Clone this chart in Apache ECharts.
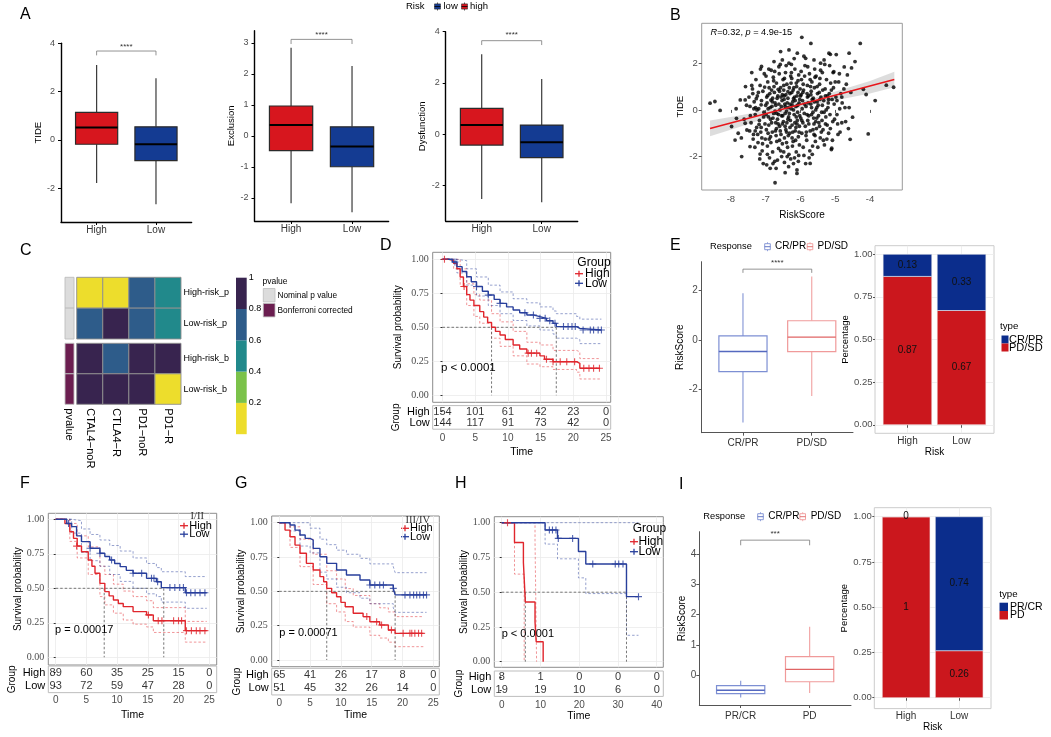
<!DOCTYPE html>
<html><head><meta charset="utf-8">
<script src="https://cdn.jsdelivr.net/npm/echarts@6/dist/echarts.min.js"></script>
<style>html,body{margin:0;padding:0;background:#fff}#c{width:1051px;height:737px}</style>
</head><body><div id="c"></div>
<script>
// ================= DATA =================
// Panel A : box stats [min, q1, median, q3, max]
const A_groups = ['High', 'Low'];
const A_tide = [[-1.78, -0.18, 0.51, 1.14, 3.1], [-2.66, -0.86, -0.18, 0.54, 2.55]];
const A_exclusion = [[-2.18, -0.48, 0.35, 0.96, 2.84], [-2.47, -1.0, -0.35, 0.29, 2.25]];
const A_dysfunction = [[-2.52, -0.42, 0.36, 1.01, 3.12], [-2.65, -0.91, -0.31, 0.36, 2.16]];
const A_tide_ticks = [-2, 0, 2, 4];
const A_excl_ticks = [-2, -1, 0, 1, 2, 3];
const A_dysf_ticks = [-2, 0, 2, 4];
const A_brackets = [[1, 2, 3.68, 3.5], [1, 2, 3.11, 2.96], [1, 2, 3.65, 3.48]];
const A_sig = '****';

// Panel B : scatter RiskScore vs TIDE
const B_points = [
[-8.6,0.29],[-8.46,0.36],[-8.31,-0.02],[-7.73,0.43],[-7.59,0.43],[-7.69,-2.0],[-7.88,-1.29],[-7.4,1.6],[-6.73,-3.12],[-5.96,3.11],
[-5.7,2.85],[-4.28,2.85],[-3.53,1.06],[-3.32,0.97],[-4.05,-1.03],[-3.85,0.4],[-4.57,-1.26],[-4.5,-0.31],[-4.11,0.66],[-4.19,0.88],
[-4.43,2.07],[-4.6,2.43],[-4.53,1.8],[-5.14,2.38],[-4.97,2.37],[-4.74,1.84],[-4.81,0.55],[-4.87,0.05],[-4.81,-0.55],[-5.1,-1.64],
[-5.72,-2.29],[-6.1,-2.57],[-6.1,-2.72],[-6.44,-2.69],[-6.34,-2.43],[-6.87,-2.5],[-7.16,-1.89],[-7.45,-1.57],[-7.12,1.86],[-6.76,2.07],
[-6.52,2.14],[-6.57,2.5],[-6.33,2.57],[-6.09,2.43],[-5.85,2.21],[-5.61,2.14],[-5.32,2.14],[-5.18,2.43],[-5.42,1.7],[-5.04,1.64],
[-7.84,-0.36],[-7.59,-0.57],[-7.54,-0.86],[-7.79,-1.0],[-7.98,-0.71],[-7.62,-0.4],[-7.55,0.2],[-7.85,0.05],[-7.58,1.0],[-7.7,-1.2],
[-7.45,0.15],[-7.42,-0.55],[-7.38,0.9],[-7.35,-1.05],[-7.33,0.35],[-7.3,-0.2],[-7.28,1.3],[-7.26,-0.75],[-7.24,0.6],[-7.22,-1.4],
[-7.2,0.05],[-7.18,-0.45],[-7.16,1.05],[-7.14,-0.95],[-7.12,0.4],[-7.1,-1.75],[-7.08,0.8],[-7.06,-0.3],[-7.04,1.55],[-7.02,-0.6],
[-7.0,0.2],[-7.48,0.55],[-7.36,-1.25],[-7.21,0.75],[-7.11,-1.2],[-7.05,-0.1],[-7.4,1.05],[-7.15,1.75],[-7.3,-0.9],[-7.25,0.0],
[-6.98,-0.85],[-6.97,0.55],[-6.95,-1.55],[-6.94,1.2],[-6.92,-0.3],[-6.9,0.95],[-6.89,-2.05],[-6.87,0.1],[-6.86,-1.15],[-6.84,1.7],
[-6.83,-0.55],[-6.81,0.35],[-6.8,-1.8],[-6.78,1.4],[-6.77,-0.15],[-6.75,0.75],[-6.74,-2.2],[-6.72,-0.9],[-6.71,0.2],[-6.69,1.15],
[-6.68,-1.35],[-6.66,-0.4],[-6.65,0.6],[-6.63,-1.65],[-6.62,1.85],[-6.6,-0.7],[-6.59,0.0],[-6.57,0.95],[-6.56,-1.05],[-6.54,-2.0],
[-6.53,0.4],[-6.51,-0.25],[-6.5,1.3],[-6.96,0.3],[-6.91,-0.65],[-6.88,0.7],[-6.85,-1.4],[-6.79,-0.35],[-6.76,1.0],[-6.73,-0.05],
[-6.7,-1.1],[-6.67,0.5],[-6.64,-0.6],[-6.61,1.55],[-6.58,-0.9],[-6.55,0.15],[-6.52,-1.45],[-6.93,-1.0],[-6.82,0.15],[-6.69,-0.8],
[-6.6,0.8],[-6.52,0.65],[-6.99,1.45],[-6.74,1.65],[-6.63,-0.2],[-6.57,-1.75],[-6.86,-0.4],[-6.8,0.5],[-6.7,-2.5],[-6.95,-1.9],
[-6.49,-0.5],[-6.48,0.85],[-6.46,-1.2],[-6.45,0.25],[-6.43,1.6],[-6.42,-0.85],[-6.4,-0.05],[-6.39,1.1],[-6.37,-1.6],[-6.36,0.5],
[-6.34,-0.3],[-6.33,2.0],[-6.31,-1.0],[-6.3,0.7],[-6.28,-2.1],[-6.27,0.05],[-6.25,1.35],[-6.24,-0.65],[-6.22,0.35],[-6.21,-1.35],
[-6.19,0.95],[-6.18,-0.2],[-6.16,1.75],[-6.15,-0.9],[-6.13,0.15],[-6.12,-1.8],[-6.1,0.6],[-6.09,-0.45],[-6.07,1.25],[-6.06,-1.15],
[-6.04,0.3],[-6.03,-0.7],[-6.01,0.9],[-6.47,0.45],[-6.44,-0.7],[-6.41,1.9],[-6.38,0.3],[-6.35,-1.1],[-6.32,0.95],[-6.29,-0.45],
[-6.26,1.6],[-6.23,-1.55],[-6.2,0.0],[-6.17,0.55],[-6.14,-1.3],[-6.11,1.0],[-6.08,-0.1],[-6.05,-1.95],[-6.02,0.45],[-6.46,1.35],
[-6.4,-1.4],[-6.35,0.1],[-6.3,-0.75],[-6.25,0.75],[-6.2,-2.3],[-6.15,0.4],[-6.1,-0.6],[-6.05,1.5],[-6.48,-1.8],[-6.42,0.65],
[-6.36,-0.4],[-6.27,1.15],[-6.22,-0.95],[-6.18,2.2],[-6.12,-0.3],[-6.07,0.75],[-6.03,-1.5],[-6.44,-0.15],[-6.33,-1.9],[-6.24,0.2],
[-5.99,-0.35],[-5.97,1.3],[-5.96,-1.0],[-5.94,0.4],[-5.92,-1.6],[-5.91,0.85],[-5.89,-0.15],[-5.87,1.9],[-5.86,-0.7],[-5.84,0.15],
[-5.82,-1.3],[-5.8,1.05],[-5.79,-0.45],[-5.77,0.6],[-5.75,-2.05],[-5.74,1.55],[-5.72,-0.9],[-5.7,0.25],[-5.68,-0.2],[-5.67,1.2],
[-5.65,-1.55],[-5.63,0.5],[-5.61,-0.6],[-5.6,0.95],[-5.58,-1.1],[-5.56,0.0],[-5.55,1.45],[-5.53,-0.35],[-5.51,0.7],[-5.98,0.65],
[-5.93,-0.55],[-5.88,1.45],[-5.83,-0.95],[-5.78,0.3],[-5.73,-1.75],[-5.69,0.8],[-5.64,-0.1],[-5.59,1.75],[-5.54,-0.8],[-5.95,0.05],
[-5.85,-2.3],[-5.76,-0.25],[-5.66,0.45],[-5.57,-1.35],[-5.52,0.35],[-5.9,2.3],[-5.81,0.7],[-5.71,1.0],[-5.62,-0.35],
[-5.49,0.2],[-5.47,-0.55],[-5.45,1.1],[-5.43,-1.2],[-5.41,0.55],[-5.39,-0.1],[-5.37,1.6],[-5.35,-0.85],[-5.33,0.4],[-5.31,-1.5],
[-5.29,0.9],[-5.27,-0.3],[-5.25,1.3],[-5.23,-0.65],[-5.21,0.1],[-5.19,-1.0],[-5.17,0.7],[-5.15,-0.2],[-5.13,1.15],[-5.11,-1.7],
[-5.09,0.45],[-5.07,-0.5],[-5.05,0.95],[-5.03,0.25],[-5.46,0.75],[-5.38,-0.45],[-5.3,1.95],[-5.22,0.6],[-5.14,-0.8],[-5.06,1.6],
[-5.42,2.0],[-5.26,0.0],[-4.98,0.55],[-4.95,-0.2],[-4.9,1.2],[-4.86,-0.95],[-4.8,0.3],[-4.75,0.9],[-4.7,-0.5],[-4.65,1.5],
[-4.6,0.1],[-4.55,0.75],[-4.93,-0.6],[-4.84,0.7],
[-7.27,0.48],[-7.19,-0.62],[-7.13,0.22],[-7.09,-1.45],[-7.03,0.98],[-6.99,-0.2],[-6.94,0.62],[-6.9,-1.25],[-6.85,0.42],[-6.81,-0.95],
[-6.77,1.25],[-6.73,0.3],[-6.68,-0.15],[-6.64,0.88],[-6.6,-1.3],[-6.56,0.55],[-6.52,-0.6],[-6.48,1.05],[-6.44,0.15],[-6.4,-0.95],
[-6.36,0.78],[-6.32,-0.15],[-6.28,1.45],[-6.24,-1.2],[-6.2,0.48],[-6.16,-0.55],[-6.12,1.15],[-6.08,0.2],[-6.04,-0.95],[-6.0,0.6],
[-5.96,-0.45],[-5.92,1.1],[-5.88,0.25],[-5.84,-1.1],[-5.8,0.55],[-5.76,-0.6],[-5.72,1.3],[-5.68,0.1],[-5.64,-0.85],[-5.6,0.35],
[-5.56,-0.5],[-5.52,1.0],[-5.48,-0.25],[-5.44,0.45],[-5.4,-0.95],[-5.36,0.85],[-5.32,-0.1],[-5.28,0.6],[-5.24,-1.25],[-5.2,0.3],
[-7.31,-1.6],[-7.17,-2.1],[-7.07,-2.3],[-6.97,-2.35],[-6.91,1.75],[-6.79,-2.3],[-6.66,-2.15],[-6.58,1.95],[-6.46,-2.25],[-6.38,-2.0],
[-6.26,1.95],[-6.17,-2.05],[-6.06,-2.2],[-5.98,1.65],[-5.9,-1.95],[-5.79,1.85],[-5.66,-1.9],[-5.58,1.4],[-5.5,-1.6],[-5.44,1.35],
[-5.34,-1.3],[-5.16,1.9],[-5.08,-1.3],[-5.0,1.2],[-4.92,-1.05],[-4.88,1.55],[-4.72,0.1],[-4.68,1.1],[-4.62,-0.8],[-4.95,0.4],
[-7.37,0.7],[-7.23,-1.05],[-7.29,0.1],[-7.13,-0.75],[-7.01,-1.25],[-6.93,0.05],[-6.83,0.85],[-6.71,-0.55],[-6.62,0.25],[-6.54,-0.25],
[-6.47,0.6],[-6.39,-0.55],[-6.3,0.25],[-6.21,0.85],[-6.13,-0.75],[-6.02,-0.25],[-5.93,0.75],[-5.81,-0.2],[-5.7,0.65],[-5.61,-1.05],
[-5.53,0.1],[-5.45,-0.7],[-5.37,0.2],[-5.28,-0.6],[-5.19,0.45],[-5.11,0.85],[-5.02,-0.4],[-7.44,-0.25],[-7.34,0.05],[-7.46,-0.9]
];
const B_fit = [[-8.6, -0.8], [-3.3, 1.3]];
const B_band = [[-8.6,-1.13,-0.45],[-7.8,-0.75,-0.25],[-7.0,-0.36,-0.02],[-6.3,-0.02,0.22],[-5.6,0.24,0.52],[-4.8,0.47,0.87],[-4.0,0.7,1.24],[-3.3,0.97,1.63]];
const B_xticks = [-8, -7, -6, -5, -4];
const B_yticks = [-2, 0, 2];

// Panel C : heatmap
const C_cols = ['CTAL4\u2212noR', 'CTLA4\u2212R', 'PD1\u2212noR', 'PD1\u2212R'];
const C_rows_p = ['High-risk_p', 'Low-risk_p'];
const C_rows_b = ['High-risk_b', 'Low-risk_b'];
const C_vals_p = [[0.1, 0.1, 0.7, 0.5], [0.7, 0.9, 0.7, 0.5]];
const C_vals_b = [[0.95, 0.7, 0.95, 0.95], [0.95, 0.95, 0.95, 0.1]];
const C_breaks = [0, 0.2, 0.4, 0.6, 0.8, 1];
const C_annot = ['Nominal p value', 'Bonferroni corrected'];

// Panel D : KM all
const KM_yticks = [0, 0.25, 0.5, 0.75, 1];
const D_times = [0, 5, 10, 15, 20, 25];
const D_nHigh = [154, 101, 61, 42, 23, 0];
const D_nLow = [144, 117, 91, 73, 42, 0];
const D_high = [[0,1],[1.0,0.99],[1.7,0.97],[2.2,0.93],[2.7,0.87],[3.2,0.8],[3.7,0.74],[4.2,0.7],[4.8,0.66],[5.7,0.615],[6.3,0.575],[6.9,0.535],[7.5,0.5],[8.1,0.47],[8.8,0.443],[9.6,0.41],[10.8,0.37],[11.8,0.34],[12.9,0.31],[14.9,0.29],[15.6,0.265],[16.9,0.247],[20.5,0.235],[21.0,0.199],[24.1,0.199]];
const D_low = [[0,1],[1.5,0.98],[2.2,0.946],[3.0,0.91],[3.7,0.872],[4.4,0.835],[5.2,0.8],[6.1,0.765],[7.0,0.737],[7.9,0.705],[8.8,0.676],[9.8,0.65],[10.8,0.627],[11.8,0.607],[12.9,0.59],[14.0,0.578],[14.9,0.566],[15.9,0.548],[16.9,0.529],[17.4,0.505],[20.5,0.492],[21.0,0.48],[24.3,0.48]];
const D_high_up = [[0,1],[1.7,1.0],[2.7,0.93],[3.7,0.82],[4.8,0.74],[5.7,0.7],[7.5,0.6],[8.8,0.54],[10.8,0.47],[12.9,0.39],[14.9,0.37],[16.9,0.33],[20.5,0.32],[21,0.27],[24.1,0.27]];
const D_high_lo = [[0,1],[1.7,0.93],[2.7,0.8],[3.7,0.66],[4.8,0.58],[5.7,0.53],[7.5,0.42],[8.8,0.36],[10.8,0.29],[12.9,0.23],[14.9,0.21],[16.9,0.19],[20.5,0.17],[21,0.12],[24.1,0.12]];
const D_low_up = [[0,1],[2.2,0.99],[3.7,0.93],[5.2,0.87],[7.0,0.81],[8.8,0.76],[10.8,0.71],[12.9,0.68],[14.9,0.65],[16.9,0.62],[17.4,0.6],[20.5,0.58],[21,0.56],[24.3,0.56]];
const D_low_lo = [[0,1],[2.2,0.9],[3.7,0.81],[5.2,0.73],[7.0,0.66],[8.8,0.6],[10.8,0.55],[12.9,0.51],[14.9,0.48],[16.9,0.45],[17.4,0.42],[20.5,0.41],[21,0.38],[24.3,0.38]];
const D_cens_high = [[0.3,1],[3.3,0.8],[13.1,0.31],[13.6,0.31],[14.4,0.31],[15.9,0.265],[16.9,0.247],[18,0.247],[19,0.247],[20.2,0.247],[21.6,0.199],[22.4,0.199],[23.1,0.199],[24.0,0.199]];
const D_cens_low = [[1.9,0.98],[5.2,0.8],[7.0,0.737],[8.8,0.676],[12.6,0.607],[13.9,0.59],[14.9,0.566],[15.7,0.566],[16.4,0.548],[17.2,0.529],[18.5,0.505],[19.2,0.505],[19.8,0.505],[20.3,0.505],[21.5,0.48],[22.6,0.48],[23.1,0.48],[23.8,0.48],[24.3,0.48]];
const D_medians = [7.5, 17.4];

// Panel E
const E_groups = ['CR/PR', 'PD/SD'];
const E_box = [[-3.33, -1.28, -0.47, 0.16, 1.88], [-2.26, -0.47, 0.11, 0.77, 2.55]];
const E_box_ticks = [-2, 0, 2];
const E_bracket = [1, 2, 2.85, 2.7];
const E_sig = '****';
const E_risk = ['High', 'Low'];
const E_types = ['CR/PR', 'PD/SD'];
const E_pct_crpr = [0.13, 0.33];
const E_pct_pdsd = [0.87, 0.67];

// Panel F
const F_times = [0, 5, 10, 15, 20, 25];
const F_nHigh = [89, 60, 35, 25, 15, 0];
const F_nLow = [93, 72, 59, 47, 28, 0];
const F_high = [[0,1],[1.5,0.97],[2.3,0.91],[2.9,0.862],[3.5,0.806],[4.2,0.765],[5.3,0.705],[5.9,0.66],[6.4,0.609],[7.2,0.536],[8.0,0.476],[8.7,0.445],[9.4,0.415],[10.2,0.39],[11.0,0.367],[12.6,0.331],[14.8,0.307],[15.9,0.265],[21.1,0.193],[24.6,0.193]];
const F_low = [[0,1],[1.8,0.97],[2.6,0.947],[3.4,0.88],[4.2,0.838],[5.6,0.79],[7.2,0.754],[8.0,0.73],[8.8,0.705],[9.6,0.68],[10.5,0.657],[11.5,0.63],[12.6,0.609],[14.8,0.572],[16.4,0.548],[17.2,0.505],[21.1,0.468],[24.6,0.468]];
const F_high_up = [[0,1],[2.3,0.97],[3.5,0.88],[5.3,0.8],[7.2,0.66],[8.0,0.6],[9.4,0.53],[11,0.48],[12.6,0.44],[14.8,0.41],[15.9,0.36],[21.1,0.26],[24.6,0.26]];
const F_high_lo = [[0,1],[2.3,0.84],[3.5,0.72],[5.3,0.6],[7.2,0.44],[8.0,0.38],[9.4,0.32],[11,0.27],[12.6,0.24],[14.8,0.22],[15.9,0.18],[21.1,0.11],[24.6,0.11]];
const F_low_up = [[0,1],[2.6,0.99],[4.2,0.93],[5.6,0.89],[7.2,0.85],[8.8,0.81],[10.5,0.77],[12.6,0.72],[14.8,0.68],[16.4,0.65],[17.2,0.62],[21.1,0.585],[24.6,0.585]];
const F_low_lo = [[0,1],[2.6,0.9],[4.2,0.76],[5.6,0.7],[7.2,0.66],[8.8,0.6],[10.5,0.55],[12.6,0.5],[14.8,0.46],[16.4,0.44],[17.2,0.4],[21.1,0.355],[24.6,0.355]];
const F_cens_high = [[3.4,0.806],[15.1,0.307],[16.7,0.265],[17.3,0.265],[19.2,0.265],[20.0,0.265],[20.5,0.265],[21.3,0.193],[22.1,0.193],[22.9,0.193],[23.5,0.193],[24.3,0.193]];
const F_cens_low = [[2.1,0.97],[5.6,0.79],[7.2,0.754],[9.1,0.705],[12.6,0.609],[14.0,0.609],[15.6,0.572],[16.0,0.572],[16.6,0.548],[18.6,0.505],[19.4,0.505],[20.2,0.505],[20.8,0.505],[21.3,0.468],[22.0,0.468],[22.7,0.468],[23.5,0.468],[24.3,0.468]];
const F_medians = [7.9, 17.6];

// Panel G
const G_times = [0, 5, 10, 15, 20, 25];
const G_nHigh = [65, 41, 26, 17, 8, 0];
const G_nLow = [51, 45, 32, 26, 14, 0];
const G_high = [[0,1],[0.93,0.946],[1.74,0.898],[2.55,0.837],[3.36,0.777],[4.4,0.704],[5.5,0.655],[6.6,0.607],[7.2,0.57],[7.7,0.522],[8.5,0.49],[9.3,0.461],[10.0,0.42],[10.7,0.388],[12.0,0.34],[13.6,0.316],[14.7,0.279],[16.3,0.255],[17.7,0.218],[18.8,0.194],[23.4,0.194]];
const G_low = [[0,1],[1.74,0.983],[2.55,0.946],[3.36,0.91],[4.2,0.886],[5.0,0.874],[5.5,0.813],[6.6,0.752],[7.7,0.704],[9.3,0.655],[10.9,0.619],[13.1,0.583],[14.7,0.546],[18.5,0.522],[18.8,0.474],[23.9,0.474]];
const G_high_up = [[0,1],[1.74,0.97],[3.36,0.88],[5.5,0.77],[7.7,0.65],[9.3,0.59],[10.7,0.52],[12,0.47],[14.7,0.41],[16.3,0.38],[17.7,0.35],[18.8,0.316],[23.4,0.316]];
const G_high_lo = [[0,1],[1.74,0.82],[3.36,0.68],[5.5,0.55],[7.7,0.41],[9.3,0.35],[10.7,0.28],[12,0.24],[14.7,0.18],[16.3,0.16],[17.7,0.13],[18.8,0.097],[23.4,0.097]];
const G_low_up = [[0,1],[5.0,0.96],[6.6,0.88],[7.7,0.84],[9.3,0.8],[10.9,0.77],[13.1,0.74],[14.7,0.7],[18.5,0.68],[18.8,0.636],[23.9,0.636]];
const G_low_lo = [[0,1],[1.74,0.94],[3.36,0.83],[5.0,0.78],[6.6,0.64],[7.7,0.59],[9.3,0.53],[10.9,0.49],[13.1,0.45],[14.7,0.41],[18.5,0.38],[18.8,0.347],[23.9,0.347]];
const G_cens_high = [[14.2,0.316],[15.8,0.279],[16.6,0.255],[18.2,0.218],[20.1,0.194],[21.2,0.194],[21.5,0.194],[22.0,0.194],[22.6,0.194],[23.1,0.194]];
const G_cens_low = [[14.7,0.546],[15.5,0.546],[16.3,0.546],[16.9,0.546],[18.5,0.522],[20.4,0.474],[21.2,0.474],[21.8,0.474],[22.3,0.474],[22.8,0.474],[23.4,0.474],[23.9,0.474]];
const G_medians = [7.7, 18.8];

// Panel H
const H_times = [0, 10, 20, 30, 40];
const H_nHigh = [8, 1, 0, 0, 0];
const H_nLow = [19, 19, 10, 6, 0];
const H_high = [[0,1],[3.3,0.857],[5.6,0.714],[6.1,0.429],[8.6,0.286],[8.9,0.143],[10.7,0]];
const H_low = [[0,1],[11.2,0.947],[14.4,0.887],[19.8,0.793],[21.7,0.703],[32.2,0.468],[35.3,0.468]];
const H_high_up = [[0,1],[8.6,0.87],[9.0,0]];
const H_high_lo = [[0,1],[3.3,0.63],[5.8,0]];
const H_low_up = [[0,1],[35.3,1]];
const H_low_lo = [[0,1],[11.2,0.846],[14.4,0.74],[19.8,0.603],[21.7,0.49],[32.2,0.19],[35.3,0.19]];
const H_cens_high = [[1.5,1]];
const H_cens_low = [[12.3,0.947],[13.1,0.947],[14.0,0.947],[14.6,0.887],[18.3,0.887],[23.5,0.703],[29.3,0.703],[30.2,0.703],[31.3,0.703],[35.3,0.468]];
const H_medians = [6.1, 32.2];

// Panel I
const I_groups = ['PR/CR', 'PD'];
const I_box = [[-0.74, -0.61, -0.5, -0.35, -0.19], [-0.59, -0.22, 0.19, 0.61, 1.6]];
const I_box_ticks = [0, 1, 2, 3, 4];
const I_bracket = [1, 2, 4.47, 4.3];
const I_sig = '***';
const I_risk = ['High', 'Low'];
const I_types = ['PR/CR', 'PD'];
const I_pct_prcr = [0, 0.74];
const I_pct_pd = [1, 0.26];

// ================= BUILD =================
const SANS = '"Liberation Sans", Arial, Helvetica, sans-serif';
const SERIF = '"Liberation Serif", "Times New Roman", serif';
const GT = '#4D4D4D';
const RED_KM = '#E0262D', BLUE_KM = '#283F9C';

const grids = [], xAxes = [], yAxes = [], series = [], graphic = [];
function addGrid(rect, xa, ya, extra) {
  const gi = grids.length;
  grids.push(Object.assign({left: rect[0], top: rect[1], width: rect[2], height: rect[3], containLabel: false, outerBoundsMode: 'none', show: false}, extra || {}));
  xAxes.push(Object.assign({gridIndex: gi}, xa));
  yAxes.push(Object.assign({gridIndex: gi}, ya));
  return gi;
}
function font(size, fam, style) { return (style ? style + ' ' : '') + size + 'px ' + (fam || SANS); }
function txt(x, y, text, size, opt) {
  opt = opt || {};
  const st = {text: text, font: font(size, opt.family, opt.fstyle), fill: opt.color || '#000',
    align: opt.align || 'left', verticalAlign: opt.va || 'middle', textAlign: opt.align || 'left', textVerticalAlign: opt.va || 'middle'};
  if (opt.rich) st.rich = opt.rich;
  return {type: 'text', x: x, y: y, rotation: opt.rotation || 0, silent: true, z: 100, style: st};
}

// ---- box helpers
function boxSeries(gi, rows, st) {
  return {type: 'custom', xAxisIndex: gi, yAxisIndex: gi, silent: true, z: 5,
    data: rows.map((r, i) => [i + 1].concat(r)), encode: {x: 0, y: [1, 2, 3, 4, 5]},
    renderItem: function (params, api) {
      const i = params.dataIndex, x = api.value(0);
      const w = api.size([st.width, 0])[0];
      const c = v => api.coord([x, v]);
      const lo = c(api.value(1)), q1 = c(api.value(2)), md = c(api.value(3)), q3 = c(api.value(4)), hi = c(api.value(5));
      const wc = st.whisker[i];
      return {type: 'group', children: [
        {type: 'line', shape: {x1: lo[0], y1: lo[1], x2: q1[0], y2: q1[1]}, style: {stroke: wc, lineWidth: st.lw}},
        {type: 'line', shape: {x1: q3[0], y1: q3[1], x2: hi[0], y2: hi[1]}, style: {stroke: wc, lineWidth: st.lw}},
        {type: 'rect', shape: {x: q3[0] - w / 2, y: q3[1], width: w, height: q1[1] - q3[1]}, style: {fill: st.fill[i], stroke: st.stroke[i], lineWidth: st.lw}},
        {type: 'line', shape: {x1: md[0] - w / 2, y1: md[1], x2: md[0] + w / 2, y2: md[1]}, style: {stroke: st.median[i], lineWidth: st.mlw}}
      ]};
    }};
}
function bracketSeries(gi, br, label, off) {
  return {type: 'custom', xAxisIndex: gi, yAxisIndex: gi, silent: true, z: 6, data: [br], encode: {x: [0, 1], y: [2, 3]},
    renderItem: function (params, api) {
      const a = api.coord([api.value(0), api.value(3)]), b = api.coord([api.value(0), api.value(2)]);
      const c = api.coord([api.value(1), api.value(2)]), d = api.coord([api.value(1), api.value(3)]);
      return {type: 'group', children: [
        {type: 'polyline', shape: {points: [a, b, c, d]}, style: {stroke: '#777', lineWidth: 0.8, fill: null}},
        {type: 'text', x: (b[0] + c[0]) / 2, y: b[1] - off, style: {text: label, font: font(8), fill: '#333', align: 'center', verticalAlign: 'middle', textAlign: 'center', textVerticalAlign: 'middle'}}
      ]};
    }};
}
function boxPanel(rect, yr, yticks, cats, rows, st) {
  const gi = addGrid(rect,
    {type: 'value', min: 0.4, max: 2.6,
      axisLine: {show: true, onZero: false, lineStyle: {color: st.axisColor, width: st.axisWidth}},
      axisTick: {show: true, length: 3, customValues: [1, 2], lineStyle: {color: st.axisColor}},
      axisLabel: {customValues: [1, 2], formatter: v => cats[Math.round(v) - 1], fontSize: st.xFont, color: '#333', margin: st.xMargin, fontFamily: SANS},
      splitLine: {show: false}},
    {type: 'value', min: yr[0], max: yr[1],
      axisLine: {show: true, onZero: false, lineStyle: {color: st.axisColor, width: st.axisWidth}},
      axisTick: {show: true, length: 3, customValues: yticks, lineStyle: {color: st.axisColor}},
      axisLabel: {customValues: yticks, fontSize: st.yFont, color: GT, margin: st.yMargin, fontFamily: SANS},
      splitLine: {show: false},
      name: st.yName, nameLocation: 'middle', nameGap: st.yNameGap, nameTextStyle: {fontSize: st.yNameFont, color: '#000', fontFamily: SANS}});
  series.push(boxSeries(gi, rows, st));
  return gi;
}

// ---- Panel A
const A_style = {width: 0.71, fill: ['#D7161E', '#143B92'], stroke: ['#2b2b2b', '#2b2b2b'], whisker: ['#3a3a3a', '#3a3a3a'], median: ['#000', '#000'],
  lw: 1.2, mlw: 2, axisColor: '#000', axisWidth: 1.4, xFont: 10, yFont: 9, xMargin: 3, yMargin: 6, yNameFont: 9.5};
const gA1 = boxPanel([61, 43.3, 130.6, 178.7], [-3.4, 4.0], A_tide_ticks, A_groups, A_tide, Object.assign({}, A_style, {yName: 'TIDE', yNameGap: 16}));
const gA2 = boxPanel([254.5, 30.7, 134.1, 190.3], [-2.75, 3.39], A_excl_ticks, A_groups, A_exclusion, Object.assign({}, A_style, {yName: 'Exclusion', yNameGap: 16}));
const gA3 = boxPanel([445.7, 31.7, 132, 189.3], [-3.38, 4.0], A_dysf_ticks, A_groups, A_dysfunction, Object.assign({}, A_style, {yName: 'Dysfunction', yNameGap: 14}));
series.push(bracketSeries(gA1, A_brackets[0], A_sig, 4));
series.push(bracketSeries(gA2, A_brackets[1], A_sig, 5));
series.push(bracketSeries(gA3, A_brackets[2], A_sig, 6));

// ---- Panel B
const gB = addGrid([701.7, 23.3, 200.6, 166.7],
  {type: 'value', min: -8.84, max: -3.07, axisLine: {show: false}, axisTick: {show: true, length: 3, customValues: B_xticks, lineStyle: {color: '#555'}},
    axisLabel: {customValues: B_xticks, fontSize: 9.5, color: GT, margin: 4}, splitLine: {show: false},
    name: 'RiskScore', nameLocation: 'middle', nameGap: 20, nameTextStyle: {fontSize: 10, color: '#000'}},
  {type: 'value', min: -3.43, max: 3.71, axisLine: {show: false}, axisTick: {show: true, length: 3, customValues: B_yticks, lineStyle: {color: '#555'}},
    axisLabel: {customValues: B_yticks, fontSize: 9.5, color: GT, margin: 4}, splitLine: {show: false},
    name: 'TIDE', nameLocation: 'middle', nameGap: 15, nameTextStyle: {fontSize: 9.5, color: '#000'}},
  {show: true, borderColor: '#9a9a9a', borderWidth: 1, backgroundColor: '#fff'});
series.push({type: 'custom', xAxisIndex: gB, yAxisIndex: gB, silent: true, z: 3, data: B_band, encode: {x: 0, y: [1, 2]},
  renderItem: function (params, api) {
    if (params.dataIndex !== 0) return null;
    const up = B_band.map(p => api.coord([p[0], p[2]]));
    const lo = B_band.map(p => api.coord([p[0], p[1]])).reverse();
    return {type: 'polygon', shape: {points: up.concat(lo)}, style: {fill: 'rgba(180,180,180,0.45)', stroke: null}};
  }});
series.push({type: 'scatter', xAxisIndex: gB, yAxisIndex: gB, data: B_points, symbolSize: 3.8, itemStyle: {color: '#000'}, silent: true, z: 4});
series.push({type: 'line', xAxisIndex: gB, yAxisIndex: gB, data: B_fit, symbol: 'none', lineStyle: {color: '#E8161B', width: 1.6}, silent: true, z: 5});

// ---- Panel C
function cColor(v) { const cols = ['#EDDD2C', '#7BC24A', '#21898B', '#2E5C8A', '#38244F']; for (let i = 0; i < 5; i++) if (v <= C_breaks[i + 1]) return cols[i]; return cols[4]; }
const C_annot_colors = ['#DCDCDC', '#6B1E50'];
function cellSeries(gi, cells, colorFn, stroke) {
  return {type: 'custom', xAxisIndex: gi, yAxisIndex: gi, silent: true, data: cells, encode: {x: 0, y: 1},
    renderItem: function (params, api) {
      const c = api.coord([api.value(0), api.value(1)]), s = api.size([1, 1]);
      return {type: 'rect', shape: {x: c[0] - s[0] / 2, y: c[1] - s[1] / 2, width: s[0], height: s[1]}, style: {fill: colorFn(api.value(2)), stroke: stroke, lineWidth: 0.9}};
    }};
}
function heatGrid(rect, cols, rows, showRows, showCols, colFont) {
  return addGrid(rect,
    {type: 'category', data: cols, axisLine: {show: false}, axisTick: {show: false},
      axisLabel: {show: showCols, rotate: -90, fontSize: colFont, color: '#000', margin: 4, interval: 0}},
    {type: 'category', data: rows, inverse: true, position: 'right', axisLine: {show: false}, axisTick: {show: false},
      axisLabel: {show: showRows, fontSize: 9, color: '#000', margin: 2.5, interval: 0}});
}
const gCt = heatGrid([76.7, 277.3, 104.3, 61.7], C_cols, C_rows_p, true, false, 11);
const gCb = heatGrid([76.7, 343.3, 104.3, 61], C_cols, C_rows_b, true, true, 11);
const gCat = heatGrid([65, 277.3, 9, 61.7], ['pvalue'], C_rows_p, false, false, 11);
const gCab = heatGrid([65, 343.3, 9, 61], ['pvalue'], C_rows_b, false, true, 11);
series.push(cellSeries(gCt, C_vals_p.flatMap((row, r) => row.map((v, c) => [c, r, v])), cColor, '#8f8f8f'));
series.push(cellSeries(gCb, C_vals_b.flatMap((row, r) => row.map((v, c) => [c, r, v])), cColor, '#8f8f8f'));
series.push(cellSeries(gCat, [[0, 0, 0], [0, 1, 0]], v => C_annot_colors[v], '#bdbdbd'));
series.push(cellSeries(gCab, [[0, 0, 1], [0, 1, 1]], v => C_annot_colors[v], '#bdbdbd'));
const gCbar = addGrid([236, 277.7, 10.7, 156.5],
  {type: 'value', min: 0, max: 1, show: false},
  {type: 'value', min: 0, max: 1, interval: 0.2, position: 'right', axisLine: {show: false}, axisTick: {show: false},
    axisLabel: {formatter: v => (v === 0 ? '' : String(+v.toFixed(1))), fontSize: 9, color: '#000', margin: 2}, splitLine: {show: false}});
series.push({type: 'custom', xAxisIndex: gCbar, yAxisIndex: gCbar, silent: true,
  data: C_breaks.slice(0, 5).map((b, i) => [b, C_breaks[i + 1], (b + C_breaks[i + 1]) / 2]), encode: {y: [0, 1]},
  renderItem: function (params, api) {
    const p1 = api.coord([0, api.value(1)]), p2 = api.coord([1, api.value(0)]);
    return {type: 'rect', shape: {x: p1[0], y: p1[1], width: p2[0] - p1[0], height: p2[1] - p1[1]}, style: {fill: cColor(api.value(2)), stroke: null}};
  }});

// ---- KM panels
const PLUS = 'path://M0,4.2H10V5.8H0ZM4.2,0H5.8V10H4.2Z';
function kmPanel(k) {
  const gp = addGrid(k.plot,
    {type: 'value', min: k.xr[0], max: k.xr[1], axisLine: {show: false}, axisTick: {show: false, customValues: k.times}, axisLabel: {show: false, customValues: k.times},
      splitLine: {show: true, lineStyle: {color: '#EBEBEB', width: 0.8}}},
    {type: 'value', min: k.yr[0], max: k.yr[1], axisLine: {show: false}, axisTick: {show: true, length: 2, customValues: KM_yticks, lineStyle: {color: '#333'}},
      axisLabel: {customValues: KM_yticks, formatter: v => v.toFixed(2), fontFamily: SERIF, fontSize: 10, color: GT, margin: 4},
      splitLine: {show: true, lineStyle: {color: '#EBEBEB', width: 0.8}},
      name: 'Survival probability', nameLocation: 'middle', nameGap: k.yNameGap, nameTextStyle: {fontSize: 10, color: '#000', fontFamily: SANS}},
    {show: true, borderColor: '#8C8C8C', borderWidth: 1, backgroundColor: '#fff'});
  const line = (data, color, opt) => Object.assign({type: 'line', xAxisIndex: gp, yAxisIndex: gp, data: data, step: 'end', symbol: 'none', silent: true,
    lineStyle: {color: color, width: 1.4}}, opt || {});
  const dashCI = (data, color) => line(data, color, {z: 3, lineStyle: {color: color, width: 0.9, type: [2.5, 2], opacity: 0.55}});
  series.push(dashCI(k.hiUp, RED_KM), dashCI(k.hiLo, RED_KM), dashCI(k.loUp, BLUE_KM), dashCI(k.loLo, BLUE_KM));
  const medDash = {color: '#555', width: 0.8, type: [2.5, 2]};
  const mh = Math.max(k.medians[0], k.medians[1]);
  series.push({type: 'line', xAxisIndex: gp, yAxisIndex: gp, data: [[0, 0.5], [mh, 0.5]], symbol: 'none', silent: true, z: 3, lineStyle: medDash});
  k.medians.forEach(m => series.push({type: 'line', xAxisIndex: gp, yAxisIndex: gp, data: [[m, 0.5], [m, 0]], symbol: 'none', silent: true, z: 3, lineStyle: medDash}));
  series.push(line(k.high, RED_KM, {z: 5}), line(k.low, BLUE_KM, {z: 5}));
  const cens = (data, color) => ({type: 'scatter', xAxisIndex: gp, yAxisIndex: gp, data: data, symbol: PLUS, symbolSize: 7, itemStyle: {color: color}, silent: true, z: 6});
  series.push(cens(k.censHigh, RED_KM), cens(k.censLow, BLUE_KM));

  const gt = addGrid(k.table,
    {type: 'value', min: k.xr[0], max: k.xr[1], axisLine: {show: false}, axisTick: {show: false, customValues: k.times},
      axisLabel: {customValues: k.times, fontSize: 10, color: GT, margin: k.tickMargin}, splitLine: {show: false},
      name: 'Time', nameLocation: 'middle', nameGap: k.timeGap, nameTextStyle: {fontSize: 10.5, color: '#000'}},
    {type: 'category', data: ['Low', 'High'], axisLine: {show: false}, axisTick: {show: true, length: 2, alignWithLabel: true, interval: 0, lineStyle: {color: '#333'}},
      axisLabel: {fontSize: 11, color: '#000', margin: 3, interval: 0},
      name: 'Group', nameLocation: 'middle', nameGap: k.groupGap, nameTextStyle: {fontSize: 10, color: '#000'}},
    {show: true, borderColor: '#BDBDBD', borderWidth: 1});
  const td = [];
  k.times.forEach((t, i) => { td.push([t, 'High', k.nHigh[i]]); td.push([t, 'Low', k.nLow[i]]); });
  series.push({type: 'scatter', xAxisIndex: gt, yAxisIndex: gt, data: td, symbolSize: 1, itemStyle: {color: 'rgba(0,0,0,0)'}, silent: true,
    label: {show: true, position: 'inside', formatter: p => String(p.value[2]), fontSize: 11, color: '#000', fontFamily: SANS}});
}
kmPanel({plot: [432.7, 252.3, 178, 150], table: [432.7, 405.6, 178, 23.6], xr: [-1.5, 25.72], yr: [-0.0515, 1.0515], times: D_times,
  high: D_high, low: D_low, hiUp: D_high_up, hiLo: D_high_lo, loUp: D_low_up, loLo: D_low_lo, censHigh: D_cens_high, censLow: D_cens_low,
  medians: D_medians, nHigh: D_nHigh, nLow: D_nLow, yNameGap: 29, groupGap: 31, timeGap: 17, tickMargin: 4});
kmPanel({plot: [48.3, 513.3, 168.4, 151.7], table: [48.3, 666.05, 168.4, 26.6], xr: [-1.205, 26.22], yr: [-0.0558, 1.0435], times: F_times,
  high: F_high, low: F_low, hiUp: F_high_up, hiLo: F_high_lo, loUp: F_low_up, loLo: F_low_lo, censHigh: F_cens_high, censLow: F_cens_low,
  medians: F_medians, nHigh: F_nHigh, nLow: F_nLow, yNameGap: 23, groupGap: 31, timeGap: 17, tickMargin: 2.5});
kmPanel({plot: [271.7, 516, 167.6, 150.7], table: [271.7, 668.35, 167.6, 26.6], xr: [-1.234, 25.97], yr: [-0.0488, 1.0488], times: G_times,
  high: G_high, low: G_low, hiUp: G_high_up, hiLo: G_high_lo, loUp: G_low_up, loLo: G_low_lo, censHigh: G_cens_high, censLow: G_cens_low,
  medians: G_medians, nHigh: G_nHigh, nLow: G_nLow, yNameGap: 23, groupGap: 28, timeGap: 14.5, tickMargin: 3.3});
kmPanel({plot: [494.3, 516.7, 169, 150.6], table: [494.3, 671, 169, 25.4], xr: [-1.91, 41.7], yr: [-0.0403, 1.043], times: H_times,
  high: H_high, low: H_low, hiUp: H_high_up, hiLo: H_high_lo, loUp: H_low_up, loLo: H_low_lo, censHigh: H_cens_high, censLow: H_cens_low,
  medians: H_medians, nHigh: H_nHigh, nLow: H_nLow, yNameGap: 24, groupGap: 30, timeGap: 13, tickMargin: 3.6});

// ---- Panel E and I: box + stacked bar
const EI_box_style = {width: 0.7, fill: ['#fff', '#fff'], stroke: ['#7D8FD3', '#F09A9A'], whisker: ['#8C9CD8', '#F2A8A8'], median: ['#5569BF', '#E06464'],
  lw: 1.2, mlw: 1.4, axisColor: '#555', axisWidth: 1, xFont: 10, yFont: 10, yNameFont: 10, yName: 'RiskScore'};
const gEb = boxPanel([701.7, 261.7, 151.3, 171], [-3.74, 3.15], E_box_ticks, E_groups, E_box, Object.assign({}, EI_box_style, {xMargin: 5.5, yMargin: 4, yNameGap: 11}));
series.push(bracketSeries(gEb, E_bracket, E_sig, 6));
const gIb = boxPanel([699.3, 531.7, 151.7, 173.3], [-0.99, 4.75], I_box_ticks, I_groups, I_box, Object.assign({}, EI_box_style, {xMargin: 6, yMargin: 3, yNameGap: 9}));
series.push(bracketSeries(gIb, I_bracket, I_sig, 6));

const BAR_COLORS = ['#CB171D', '#0B2D8C'];
function stackBarPanel(rect, yr, cats, bottomVals, topVals, gap) {
  const yt = [0, 0.25, 0.5, 0.75, 1];
  const gi = addGrid(rect,
    {type: 'value', min: 0.4, max: 2.6, axisLine: {show: false}, axisTick: {show: true, length: 3, customValues: [1, 2], lineStyle: {color: '#555'}},
      axisLabel: {customValues: [1, 2], formatter: v => cats[Math.round(v) - 1], fontSize: 10, color: '#333', margin: 3},
      splitLine: {show: true, lineStyle: {color: '#EBEBEB', width: 0.8}},
      name: 'Risk', nameLocation: 'middle', nameGap: gap, nameTextStyle: {fontSize: 10, color: '#000'}},
    {type: 'value', min: yr[0], max: yr[1], axisLine: {show: false}, axisTick: {show: true, length: 2, customValues: yt, lineStyle: {color: '#555'}},
      axisLabel: {customValues: yt, formatter: v => v.toFixed(2), fontSize: 9.5, color: GT, margin: 2.5},
      splitLine: {show: true, lineStyle: {color: '#EBEBEB', width: 0.8}},
      name: 'Percentage', nameLocation: 'middle', nameGap: 20, nameTextStyle: {fontSize: 9.5, color: '#000'}},
    {show: true, borderColor: '#CCCCCC', borderWidth: 1, backgroundColor: '#fff'});
  const data = [];
  cats.forEach((c, i) => {
    data.push([i + 1, 0, bottomVals[i], bottomVals[i], 0]);
    data.push([i + 1, bottomVals[i], bottomVals[i] + topVals[i], topVals[i], 1]);
  });
  series.push({type: 'custom', xAxisIndex: gi, yAxisIndex: gi, silent: true, z: 4, data: data, encode: {x: 0, y: [1, 2]},
    renderItem: function (params, api) {
      const x = api.value(0), w = api.size([0.9, 0])[0];
      const p0 = api.coord([x, api.value(1)]), p1 = api.coord([x, api.value(2)]);
      return {type: 'group', children: [
        {type: 'rect', shape: {x: p0[0] - w / 2, y: p1[1], width: w, height: p0[1] - p1[1]}, style: {fill: BAR_COLORS[api.value(4)], stroke: '#f2f2f2', lineWidth: 0.6}},
        {type: 'text', x: p0[0], y: (p0[1] + p1[1]) / 2, style: {text: String(api.value(3)), font: font(10), fill: '#111', align: 'center', verticalAlign: 'middle', textAlign: 'center', textVerticalAlign: 'middle'}}
      ]};
    }});
}
stackBarPanel([875, 245.7, 119, 187.6], [-0.05, 1.05], E_risk, E_pct_pdsd, E_pct_crpr, 13);
stackBarPanel([874.3, 507.7, 116.7, 200.9], [-0.06, 1.05], I_risk, I_pct_pd, I_pct_prcr, 12.5);

// ================= GRAPHIC (labels, legends) =================
[['A', 20, 15], ['B', 670, 16], ['C', 20, 251], ['D', 380, 246], ['E', 670, 246], ['F', 20, 484], ['G', 235, 484], ['H', 455, 484], ['I', 679, 485]]
  .forEach(l => graphic.push(txt(l[1], l[2], l[0], 16)));
// Risk legend (A)
function riskKey(cx, cy, color) {
  return {type: 'group', x: cx, y: cy, silent: true, children: [
    {type: 'line', shape: {x1: 0, y1: -4, x2: 0, y2: 4}, style: {stroke: '#333', lineWidth: 0.8}},
    {type: 'rect', shape: {x: -3, y: -2.6, width: 6, height: 5.2}, style: {fill: color, stroke: '#333', lineWidth: 0.6}},
    {type: 'line', shape: {x1: -3, y1: 0, x2: 3, y2: 0}, style: {stroke: '#000', lineWidth: 0.8}}]};
}
graphic.push(txt(406, 6.5, 'Risk', 9.5), riskKey(437.5, 6.5, '#143B92'), txt(443.5, 6.5, 'low', 9.5), riskKey(464.5, 6.5, '#D7161E'), txt(470, 6.5, 'high', 9.5));
// B annotation
graphic.push(txt(710.5, 32.5, '{i|R}=0.32, {i|p} = 4.9e-15', 9.2, {rich: {i: {fontStyle: 'italic', fontSize: 9.2, fontFamily: SANS}}}));
// C legend
graphic.push(txt(262.5, 282, 'pvalue', 8.5),
  {type: 'rect', shape: {x: 263.3, y: 288.5, width: 11.7, height: 13.4}, style: {fill: '#DCDCDC', stroke: '#BDBDBD', lineWidth: 0.8}, silent: true},
  {type: 'rect', shape: {x: 263.3, y: 303.5, width: 11.7, height: 13.4}, style: {fill: '#6B1E50', stroke: '#BDBDBD', lineWidth: 0.8}, silent: true},
  txt(277.5, 295.5, C_annot[0], 8.3), txt(277.5, 310.3, C_annot[1], 8.3));
// KM legends and p-values
function kmKey(x, y, color) {
  return {type: 'group', x: x, y: y, silent: true, children: [
    {type: 'line', shape: {x1: 0, y1: 0, x2: 8, y2: 0}, style: {stroke: color, lineWidth: 1.3}},
    {type: 'line', shape: {x1: 4, y1: -3, x2: 4, y2: 3}, style: {stroke: color, lineWidth: 1.3}}]};
}
graphic.push(txt(577.3, 262.3, 'Group', 12), kmKey(575, 273.7, RED_KM), txt(585, 273.7, 'High', 12), kmKey(575, 283.3, BLUE_KM), txt(585, 283.3, 'Low', 12));
graphic.push(txt(441, 367.7, 'p < 0.0001', 11.5));
graphic.push(txt(190.5, 516.5, 'I/II', 10.5, {family: SERIF, color: '#333'}), kmKey(180, 525.7, RED_KM), txt(189.3, 525.7, 'High', 11), kmKey(180, 534.2, BLUE_KM), txt(189.3, 534.2, 'Low', 11));
graphic.push(txt(55, 630, 'p = 0.00017', 11));
graphic.push(txt(405.5, 520, 'III/IV', 10.5, {family: SERIF, color: '#333'}), kmKey(401, 528.3, RED_KM), txt(410, 528.3, 'High', 11), kmKey(401, 536.7, BLUE_KM), txt(410, 536.7, 'Low', 11));
graphic.push(txt(279.3, 632.7, 'p = 0.00071', 11));
graphic.push(txt(632.7, 529, 'Group', 12), kmKey(630, 541.7, RED_KM), txt(638.5, 541.7, 'High', 12), kmKey(630, 551.7, BLUE_KM), txt(638.5, 551.7, 'Low', 12));
graphic.push(txt(501.7, 634, 'p < 0.0001', 11));
// Response legends (E, I)
function respKey(cx, cy, stroke, med) {
  return {type: 'group', x: cx, y: cy, silent: true, children: [
    {type: 'line', shape: {x1: 0, y1: -4.5, x2: 0, y2: 4.5}, style: {stroke: stroke, lineWidth: 0.8}},
    {type: 'rect', shape: {x: -2.8, y: -3, width: 5.6, height: 6}, style: {fill: '#fff', stroke: stroke, lineWidth: 0.9}},
    {type: 'line', shape: {x1: -2.8, y1: 0, x2: 2.8, y2: 0}, style: {stroke: med, lineWidth: 0.9}}]};
}
graphic.push(txt(710, 246.7, 'Response', 9.3), respKey(767.5, 246.7, '#7D8FD3', '#5569BF'), txt(775, 246.7, 'CR/PR', 10), respKey(810, 246.7, '#F09A9A', '#E06464'), txt(817.5, 246.7, 'PD/SD', 10));
graphic.push(txt(703.3, 516.7, 'Response', 9.3), respKey(760.5, 516.7, '#7D8FD3', '#5569BF'), txt(768.3, 516.7, 'CR/PR', 10), respKey(802.7, 516.7, '#F09A9A', '#E06464'), txt(810.7, 516.7, 'PD/SD', 10));
// type legends
graphic.push(txt(1000, 326, 'type', 9.7),
  {type: 'rect', shape: {x: 1001.5, y: 335.5, width: 7, height: 8}, style: {fill: BAR_COLORS[1]}, silent: true},
  {type: 'rect', shape: {x: 1001.5, y: 343.5, width: 7, height: 8}, style: {fill: BAR_COLORS[0]}, silent: true},
  txt(1009, 339.5, E_types[0], 11), txt(1009, 347.7, E_types[1], 11));
graphic.push(txt(999.3, 594.5, 'type', 9.7),
  {type: 'rect', shape: {x: 999.5, y: 602.7, width: 8.5, height: 8.3}, style: {fill: BAR_COLORS[1]}, silent: true},
  {type: 'rect', shape: {x: 999.5, y: 611, width: 8.5, height: 8.5}, style: {fill: BAR_COLORS[0]}, silent: true},
  txt(1010, 606.8, I_types[0], 10.5), txt(1010, 615.3, I_types[1], 10.5));

const chart = echarts.init(document.getElementById('c'), null, {renderer: 'canvas'});
chart.setOption({
  animation: false,
  backgroundColor: '#fff',
  textStyle: {fontFamily: SANS},
  grid: grids, xAxis: xAxes, yAxis: yAxes, series: series,
  graphic: {elements: graphic}
});
</script></body></html>
